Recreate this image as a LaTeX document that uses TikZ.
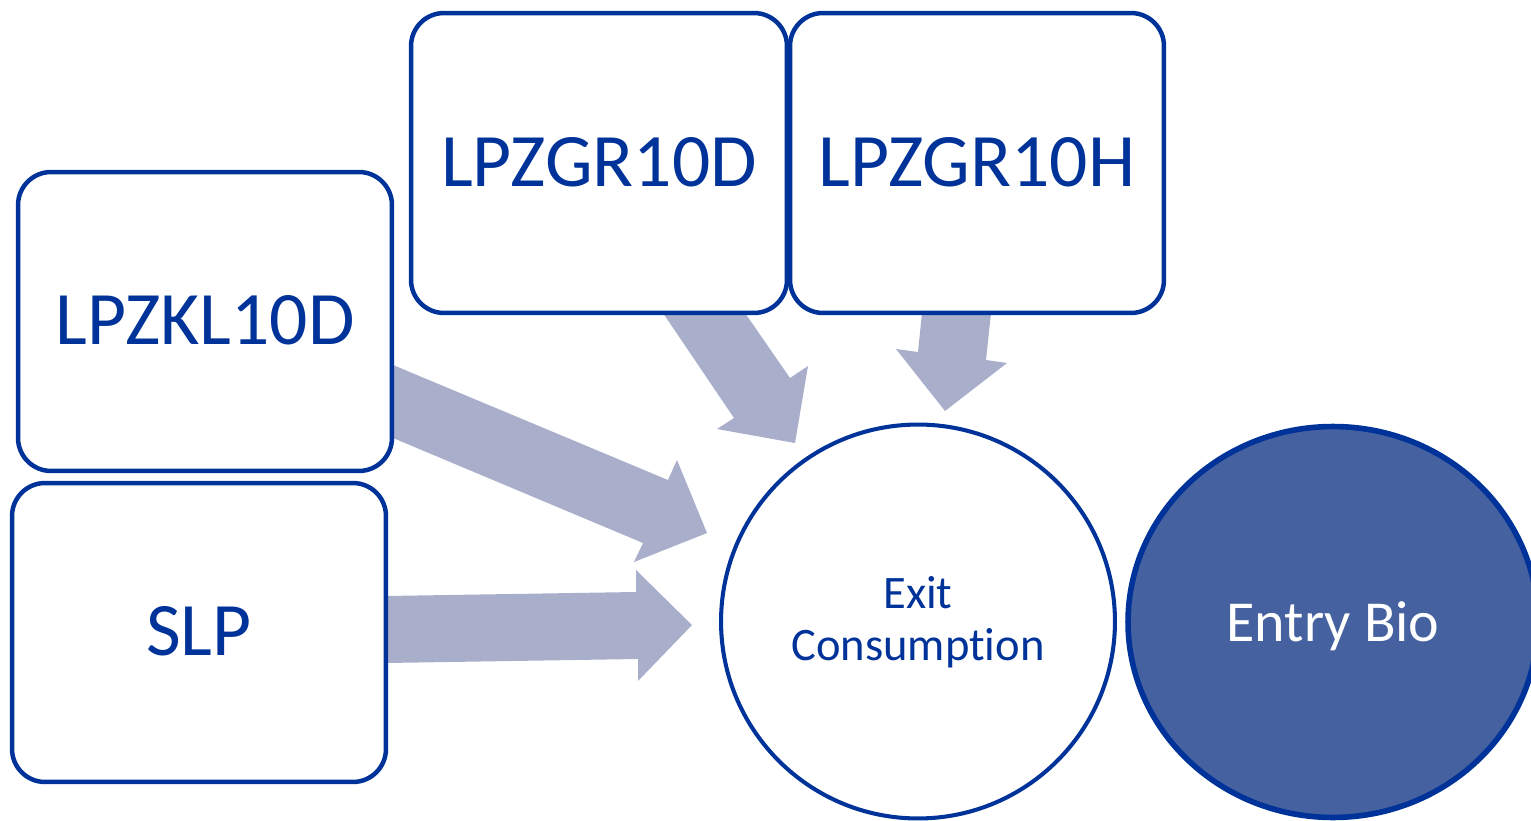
\documentclass[tikz,border=0pt]{standalone}
\usepackage{fontspec}
\setmainfont{Carlito}[Ligatures={NoCommon,NoRare}]
\usetikzlibrary{shapes.geometric,backgrounds}
\definecolor{dblue}{RGB}{0,51,153}
\definecolor{arrfill}{RGB}{169,174,203}
\definecolor{biofill}{RGB}{70,97,160}
\tikzset{
  boxnode/.style={draw=dblue, line width=2.55pt, fill=white, rounded corners=0.66cm,
    inner sep=0pt, text=dblue, font=\fontsize{43}{52}\selectfont, text depth=1.5pt},
  blockarrow/.style={fill=arrfill, draw=none},
}
\begin{document}
\begin{tikzpicture}[x=0.02cm, y=-0.02cm]
\useasboundingbox (0,0) rectangle (1531,821);
% boxes
\node[boxnode, minimum width=7.48cm, minimum height=5.98cm] (kl) at (205,321.5) {LPZKL10D};
\node[boxnode, minimum width=7.48cm, minimum height=5.98cm] (slp) at (199,632.5) {SLP};
\node[boxnode, minimum width=7.52cm, minimum height=6.0cm] (grd) at (599,163) {LPZGR10D};
\node[boxnode, minimum width=7.48cm, minimum height=6.0cm] (grh) at (977,163) {LPZGR10H};
% circles
\node[circle, draw=dblue, line width=2.3pt, fill=white, minimum size=7.88cm, inner sep=0pt,
  text=dblue, align=center, font=\fontsize{26.5}{29.5}\selectfont, text depth=3.5pt] (exit) at (918,621.5) {Exit\\Consumption};
\node[ellipse, draw=dblue, line width=3.2pt, fill=biofill, minimum width=8.2cm, minimum height=7.82cm, inner sep=0pt,
  text=white, font=\fontsize{33}{39}\selectfont, text depth=0pt] (bio) at (1333,622) {Entry Bio};
% block arrows
\begin{scope}[on background layer]
\fill[blockarrow] (393,365) -- (668,480) -- (677,460) -- (707,533) -- (634,562) -- (643,543) -- (393,438) -- cycle;
\fill[blockarrow] (386,596) -- (636,592) -- (636,570) -- (692,625) -- (638,681) -- (638,659) -- (386,663) -- cycle;
\fill[blockarrow] (663,313) -- (734,418) -- (717,429) -- (795,443) -- (808,366) -- (790,378) -- (745,313) -- cycle;
\fill[blockarrow] (922,313) -- (918,352) -- (896,349) -- (945,411) -- (1007,363) -- (986,360) -- (991,313) -- cycle;
\end{scope}
\end{tikzpicture}
\end{document}
